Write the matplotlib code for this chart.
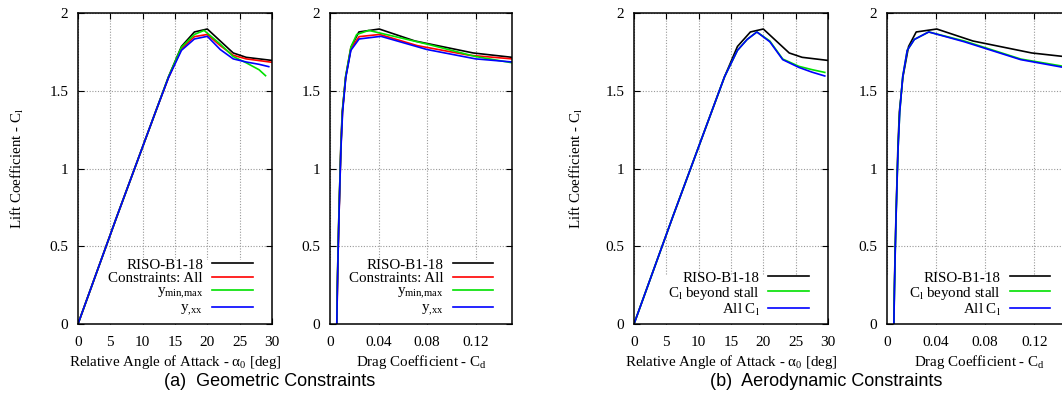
import matplotlib
matplotlib.use("Agg")
import matplotlib.pyplot as plt
from matplotlib.patches import Rectangle

plt.rcParams['font.family'] = ['Liberation Serif', 'DejaVu Serif']
plt.rcParams['mathtext.fontset'] = 'custom'
plt.rcParams['mathtext.rm'] = 'Liberation Serif'
plt.rcParams['mathtext.it'] = 'Liberation Serif:italic'
plt.rcParams['mathtext.bf'] = 'Liberation Serif:bold'

# ---------------- data ----------------
# Geometric constraints
alpha_riso = [0, 2, 4, 6, 8, 10, 12, 14, 16, 18, 20, 22, 24, 26, 28, 30]
cl_riso = [0.0, 0.23, 0.46, 0.69, 0.915, 1.14, 1.365, 1.59, 1.785, 1.878, 1.897, 1.82, 1.743, 1.715, 1.705, 1.695]
cd_riso = [0.0056, 0.0060, 0.0066, 0.0073, 0.0081, 0.0089, 0.0101, 0.0130, 0.0176, 0.0238, 0.0406, 0.070, 0.118, 0.150, 0.170, 0.190]

alpha_all = [0, 2, 4, 6, 8, 10, 12, 14, 16, 18, 20, 22, 24, 26, 28, 30]
cl_all = [0.0, 0.23, 0.46, 0.69, 0.915, 1.14, 1.365, 1.585, 1.77, 1.848, 1.862, 1.79, 1.728, 1.705, 1.694, 1.683]
cd_all = [0.0056, 0.0061, 0.0067, 0.0074, 0.0082, 0.0090, 0.0103, 0.0128, 0.0170, 0.0240, 0.0410, 0.072, 0.115, 0.150, 0.170, 0.190]

alpha_ymm = [0, 2, 4, 6, 8, 10, 12, 14, 16, 18, 19.5, 22, 24, 26, 28, 29]
cl_ymm = [0.0, 0.23, 0.46, 0.69, 0.915, 1.14, 1.365, 1.59, 1.78, 1.862, 1.888, 1.80, 1.72, 1.68, 1.635, 1.597]
cd_ymm = [0.0056, 0.0060, 0.0066, 0.0073, 0.0081, 0.0090, 0.0102, 0.0128, 0.0172, 0.0220, 0.0320, 0.080, 0.120, 0.150, 0.170, 0.180]

alpha_yxx = [0, 2, 4, 6, 8, 10, 12, 14, 16, 18, 20, 22, 24, 26, 28, 29.5]
cl_yxx = [0.0, 0.23, 0.46, 0.69, 0.915, 1.14, 1.365, 1.585, 1.76, 1.833, 1.85, 1.765, 1.705, 1.685, 1.67, 1.655]
cd_yxx = [0.0056, 0.0061, 0.0067, 0.0074, 0.0082, 0.0091, 0.0104, 0.0130, 0.0172, 0.0240, 0.0420, 0.080, 0.120, 0.150, 0.170, 0.185]

# Aerodynamic constraints
alpha_beyond = [0, 2, 4, 6, 8, 10, 12, 14, 16, 17.5, 19, 21, 23, 25.5, 27.5, 29.5]
cl_beyond = [0.0, 0.23, 0.46, 0.69, 0.915, 1.14, 1.365, 1.59, 1.76, 1.83, 1.878, 1.82, 1.704, 1.657, 1.636, 1.618]
cd_beyond = [0.0056, 0.0061, 0.0067, 0.0074, 0.0082, 0.0091, 0.0104, 0.0128, 0.0165, 0.0223, 0.034, 0.063, 0.109, 0.144, 0.170, 0.190]

alpha_allcl = [0, 2, 4, 6, 8, 10, 12, 14, 16, 17.5, 19, 21, 23, 25.5, 27.5, 29.5]
cl_allcl = [0.0, 0.23, 0.46, 0.69, 0.915, 1.14, 1.365, 1.59, 1.76, 1.83, 1.878, 1.815, 1.70, 1.65, 1.62, 1.595]
cd_allcl = [0.0056, 0.0061, 0.0067, 0.0074, 0.0082, 0.0091, 0.0104, 0.0128, 0.0165, 0.0223, 0.034, 0.063, 0.109, 0.144, 0.170, 0.190]

alpha_ticks = [0, 5, 10, 15, 20, 25, 30]
cd_ticks = [0, 0.04, 0.08, 0.12]
cd_tick_labels = ['0', '0.04', '0.08', '0.12']
cl_ticks = [0, 0.5, 1, 1.5, 2]
cl_tick_labels = ['0', '0.5', '1', '1.5', '2']

labels_geo = ['RISO-B1-18', 'Constraints: All', r'y$_{\rm min{,}max}$', r'y$_{\rm {,}xx}$']
labels_aero = ['RISO-B1-18', r'C$_{\rm l}$ beyond stall', r'All C$_{\rm l}$']

c_black, c_red, c_green, c_blue = '#000000', '#ff0000', '#00e000', '#0000ff'

FS_TICK = 11
FS_LAB = 10.8
FS_LEG = 10.8

# ---------------- figure ----------------
W, H = 1062, 399
fig = plt.figure(figsize=(W / 100, H / 100), dpi=100)

def ax_at(x0, x1, y0=13, y1=324):
    return fig.add_axes([x0 / W, 1 - y1 / H, (x1 - x0) / W, (y1 - y0) / H])

def style(ax, xlim, xticks, xticklabels, cover):
    ax.set_xlim(*xlim)
    ax.set_ylim(0, 2)
    ax.set_xticks(xticks)
    ax.set_xticklabels(xticklabels)
    ax.set_yticks(cl_ticks)
    ax.set_yticklabels(cl_tick_labels)
    ax.tick_params(direction='in', top=True, right=True, length=4, width=0.8,
                   labelsize=FS_TICK, pad=7)
    ax.tick_params(axis='x', pad=9)
    ax.set_axisbelow(True)
    ax.grid(True, color='#999999', linestyle=(0, (1, 1.5)), linewidth=0.8)
    for s in ax.spines.values():
        s.set_linewidth(1.1)
    ax.add_patch(Rectangle((0, 0), 1, cover, transform=ax.transAxes,
                           facecolor='white', edgecolor='none', zorder=1))

def legend(ax, labels, xanchor):
    leg = ax.legend(labels, loc='lower right', bbox_to_anchor=(xanchor, 0.02),
                    frameon=False, markerfirst=False, fontsize=FS_LEG,
                    handlelength=2.7, handletextpad=0.6, labelspacing=0.0,
                    borderpad=0, borderaxespad=0)
    leg.set_zorder(5)

lw = 1.2

# Panel 1
ax1 = ax_at(78, 272)
ax1.plot(alpha_riso, cl_riso, color=c_black, lw=lw, zorder=2)
ax1.plot(alpha_all, cl_all, color=c_red, lw=lw, zorder=2)
ax1.plot(alpha_ymm, cl_ymm, color=c_green, lw=lw, zorder=2)
ax1.plot(alpha_yxx, cl_yxx, color=c_blue, lw=lw, zorder=2)
style(ax1, (0, 30), alpha_ticks, [str(t) for t in alpha_ticks], 0.205)
legend(ax1, labels_geo, 0.90)
ax1.set_xlabel(r'Relative Angle of Attack - α$_0$ [deg]', fontsize=FS_LAB)
ax1.set_ylabel(r'Lift Coefficient - C$_{\rm l}$', fontsize=FS_LAB)
ax1.xaxis.set_label_coords(0.5, -0.093)
ax1.yaxis.set_label_coords(-0.27, 0.5)

# Panel 2
ax2 = ax_at(330, 512)
ax2.plot(cd_riso, cl_riso, color=c_black, lw=lw, zorder=2)
ax2.plot(cd_all, cl_all, color=c_red, lw=lw, zorder=2)
ax2.plot(cd_ymm, cl_ymm, color=c_green, lw=lw, zorder=2)
ax2.plot(cd_yxx, cl_yxx, color=c_blue, lw=lw, zorder=2)
style(ax2, (0, 0.15), cd_ticks, cd_tick_labels, 0.205)
legend(ax2, labels_geo, 0.896)
ax2.set_xlabel(r'Drag Coefficient - C$_{\rm d}$', fontsize=FS_LAB)
ax2.xaxis.set_label_coords(0.5, -0.093)

# Panel 3
ax3 = ax_at(634, 828)
ax3.plot(alpha_riso, cl_riso, color=c_black, lw=lw, zorder=2)
ax3.plot(alpha_beyond, cl_beyond, color=c_green, lw=lw, zorder=2)
ax3.plot(alpha_allcl, cl_allcl, color=c_blue, lw=lw, zorder=2)
style(ax3, (0, 30), alpha_ticks, [str(t) for t in alpha_ticks], 0.155)
legend(ax3, labels_aero, 0.902)
ax3.set_xlabel(r'Relative Angle of Attack - α$_0$ [deg]', fontsize=FS_LAB)
ax3.set_ylabel(r'Lift Coefficient - C$_{\rm l}$', fontsize=FS_LAB)
ax3.xaxis.set_label_coords(0.5, -0.093)
ax3.yaxis.set_label_coords(-0.255, 0.5)

# Panel 4 (cropped at the right edge in the original)
ax4 = ax_at(887, 1071)
ax4.plot(cd_riso, cl_riso, color=c_black, lw=lw, zorder=2)
ax4.plot(cd_beyond, cl_beyond, color=c_green, lw=lw, zorder=2)
ax4.plot(cd_allcl, cl_allcl, color=c_blue, lw=lw, zorder=2)
style(ax4, (0, 0.15), cd_ticks, cd_tick_labels, 0.155)
legend(ax4, labels_aero, 0.886)
ax4.set_xlabel(r'Drag Coefficient - C$_{\rm d}$', fontsize=FS_LAB)
ax4.xaxis.set_label_coords(0.5, -0.093)

# Sub-captions
fig.text(270 / W, 1 - 382 / H, '(a)  Geometric Constraints', ha='center', va='center',
         fontsize=13, family=['Liberation Sans', 'DejaVu Sans'])
fig.text(826 / W, 1 - 382 / H, '(b)  Aerodynamic Constraints', ha='center', va='center',
         fontsize=13, family=['Liberation Sans', 'DejaVu Sans'])

fig.savefig('out.png', dpi=100)
